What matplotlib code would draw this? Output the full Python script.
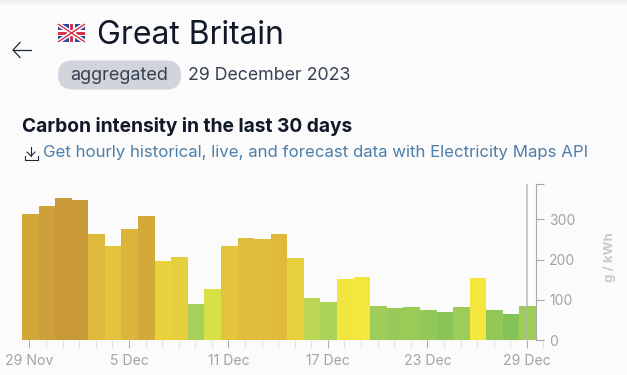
import matplotlib
matplotlib.use('Agg')
import matplotlib.pyplot as plt
import numpy as np
from matplotlib.colors import LinearSegmentedColormap, Normalize
from matplotlib.patches import FancyBboxPatch, Rectangle

W, H = 627, 375
BG = '#fbfbfb'

# g / kWh, one bar per day
intensity = [314, 332, 352, 347, 264, 233, 275, 308, 197, 207, 90, 128, 233, 254, 250, 263, 205,
             105, 95, 151, 157, 85, 79, 81, 75, 70, 83, 153, 75, 65, 84]
tick_labels = ['29 Nov', '5 Dec', '11 Dec', '17 Dec', '23 Dec', '29 Dec']
y_ticks = [0, 100, 200, 300]

plt.rcParams['font.family'] = ['Inter', 'DejaVu Sans']

fig = plt.figure(figsize=(W / 100, H / 100), dpi=100, facecolor=BG)


def px_axes(x0, y0, x1, y1):
    # axes from pixel box, y counted from the top of the picture
    return fig.add_axes([x0 / W, 1 - y1 / H, (x1 - x0) / W, (y1 - y0) / H])


# page decoration in pixel coordinates
page = px_axes(0, 0, W, H)
page.axis('off')

shade = np.linspace(0.93, 0.985, 8).reshape(-1, 1)
page.imshow(shade, cmap='gray', vmin=0, vmax=1, extent=(0, W, 7, 0), aspect='auto')
page.set_xlim(0, W)
page.set_ylim(H, 0)

# flag
page.add_patch(Rectangle((58, 24), 27, 18, color='#2b4a9b', lw=0))
page.plot([58, 85], [24, 42], color='white', lw=3.2, solid_capstyle='butt')
page.plot([58, 85], [42, 24], color='white', lw=3.2, solid_capstyle='butt')
page.plot([58, 85], [24, 42], color='#d8304a', lw=1.0, solid_capstyle='butt')
page.plot([58, 85], [42, 24], color='#d8304a', lw=1.0, solid_capstyle='butt')
page.add_patch(Rectangle((58, 30), 27, 6, color='white', lw=0))
page.add_patch(Rectangle((68.5, 24), 6, 18, color='white', lw=0))
page.add_patch(Rectangle((58, 31.5), 27, 3, color='#d8304a', lw=0))
page.add_patch(Rectangle((70, 24), 3, 18, color='#d8304a', lw=0))

page.text(97, 35, 'Great Britain', fontsize=23, color='#111827', va='center', ha='left')

# back arrow
page.plot([13, 31], [50, 50], color='#1f2937', lw=0.9)
page.plot([20, 13, 20], [42.5, 50, 57.5], color='#1f2937', lw=0.9)

# pill
page.add_patch(FancyBboxPatch((58, 60.5), 123, 29, boxstyle='round,pad=0,rounding_size=14.5',
                              fc='#d1d5db', ec='none'))
page.text(119.5, 75, 'aggregated', fontsize=13, color='#374151', va='center', ha='center')
page.text(188, 75, '29 December 2023', fontsize=12.8, color='#374151', va='center', ha='left')

page.text(22, 126, 'Carbon intensity in the last 30 days', fontsize=13.8, fontweight='bold',
          color='#111827', va='center', ha='left')

# download icon
page.plot([31, 31], [147, 156], color='#1f2937', lw=0.8)
page.plot([27, 31, 35], [152, 156, 152], color='#1f2937', lw=0.8)
page.plot([24.5, 24.5, 37.5, 37.5], [156, 160, 160, 156], color='#1f2937', lw=0.8)
page.text(43, 152, 'Get hourly historical, live, and forecast data with Electricity Maps API',
          fontsize=12.1, color='#4d7ea8', va='center', ha='left')

# colour scale of the bars follows the value
cmap = LinearSegmentedColormap.from_list('carbon', [
    (0.0, '#6fb64f'), (65 / 400, '#84c256'), (90 / 400, '#a8d05a'), (128 / 400, '#d8e047'),
    (155 / 400, '#f6e73e'), (205 / 400, '#e6d03c'), (260 / 400, '#dfba3c'),
    (350 / 400, '#c99a38'), (1.0, '#c29035')])
norm = Normalize(0, 400)

# chart
ax = px_axes(22, 183.5, 548, 340)
ax.patch.set_alpha(0)
days = np.arange(len(intensity))
step = 514 / len(intensity)
ax.bar(days, intensity, width=1.0, align='edge', color=cmap(norm(np.array(intensity))), lw=0)
ax.set_xlim(0, 526 / step)
ax.set_ylim(0, 389)

for s in ['top', 'left', 'bottom']:
    ax.spines[s].set_visible(False)
ax.spines['right'].set_position(('data', len(intensity)))
ax.spines['right'].set_color('#a8a8a8')
ax.spines['right'].set_linewidth(0.8)

ax.yaxis.tick_right()
ax.set_yticks(y_ticks + [389])
ax.set_yticklabels([str(v) for v in y_ticks] + [''])
ax.tick_params(axis='y', length=5.8, width=0.8, color='#a8a8a8', labelcolor='#a3a3a3', labelsize=10, pad=3.6)

major = days[::6] + 0.45
minor = (np.arange(len(intensity) + 1) + 0.45)
ax.set_xticks(major)
ax.set_xticklabels(tick_labels)
ax.set_xticks(minor, minor=True)
ax.tick_params(axis='x', which='major', length=5.8, width=0.8, color='#b0b0b0', labelcolor='#a3a3a3',
               labelsize=10.1, pad=4.3)
ax.tick_params(axis='x', which='minor', length=5.8, width=0.8, color='#e2e2e2')

# hover line
ax.axvline(days[-1] + 0.45, color='#b4b4b4', lw=1.2, alpha=0.85)

page.text(610, 257, 'g / kWh', rotation=90, fontsize=9.6, fontweight='bold', color='#cacaca',
          va='center', ha='center')

fig.savefig('out.png', dpi=100, facecolor=BG)
